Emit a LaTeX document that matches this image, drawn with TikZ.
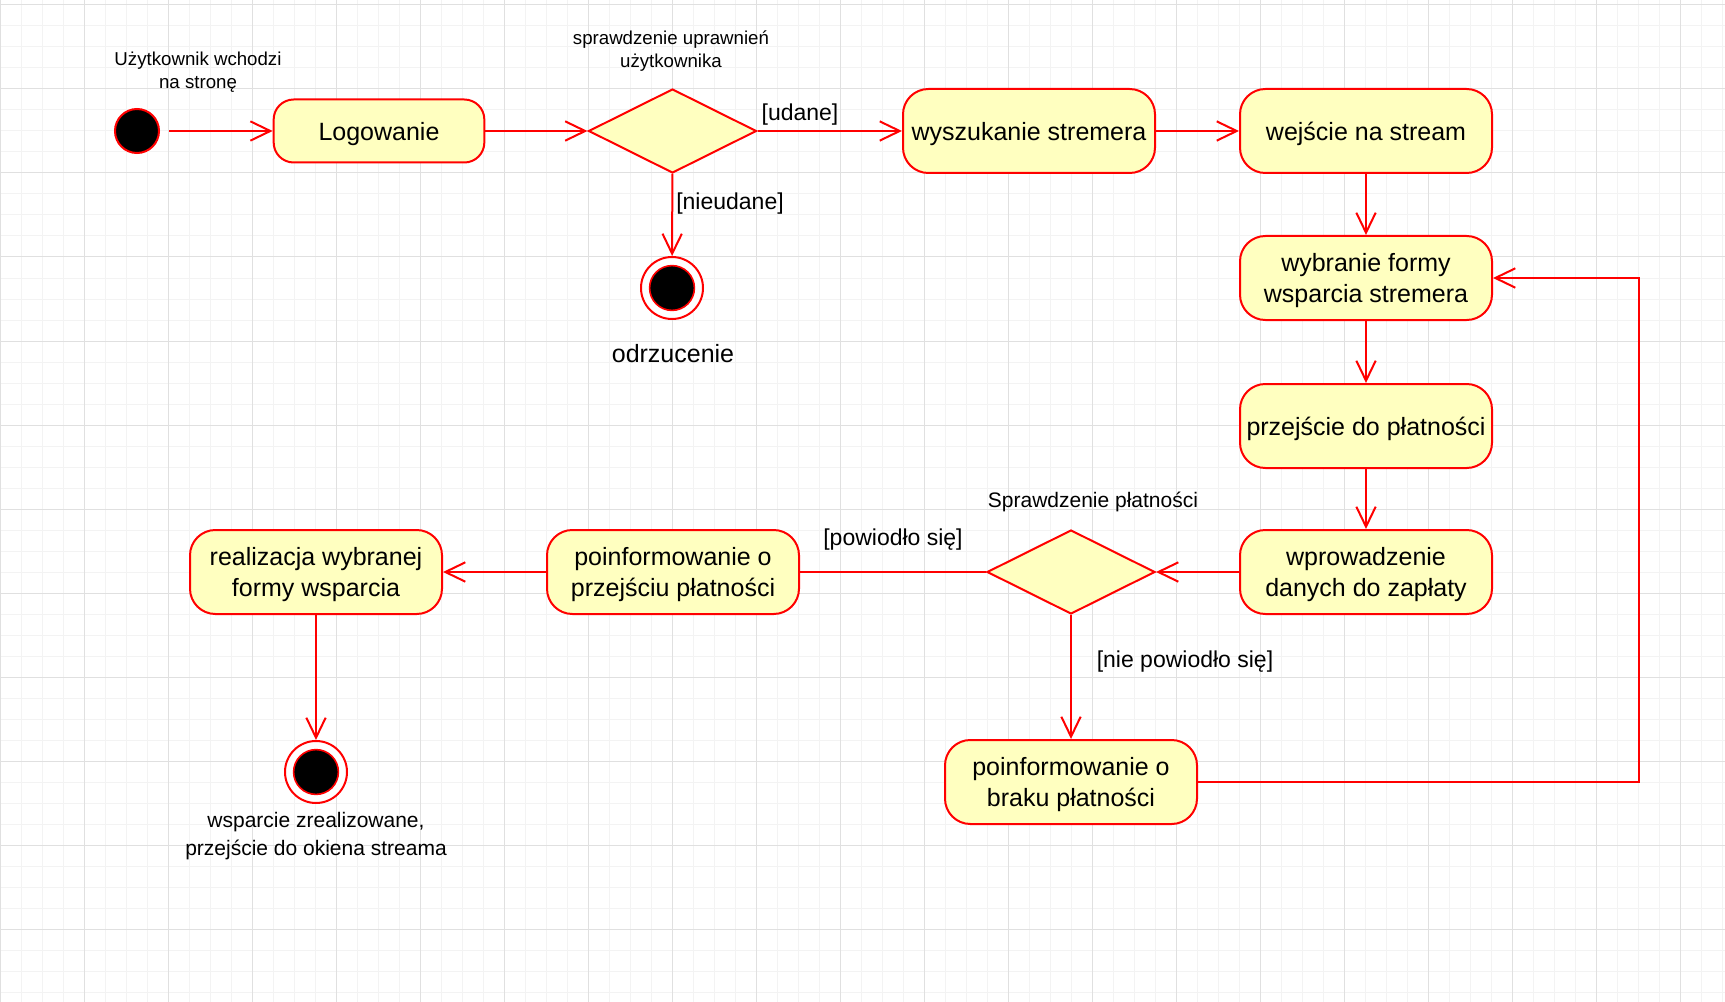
\documentclass[tikz,border=0pt]{standalone}
\usepackage{fontspec}
\setmainfont{Liberation Sans}
\usetikzlibrary{shapes.geometric,arrows.meta}

\definecolor{umlred}{RGB}{255,0,0}
\definecolor{umlfill}{RGB}{255,255,192}
\definecolor{gridmaj}{RGB}{224,224,224}
\definecolor{gridmin}{RGB}{243,243,243}

\tikzset{every picture/.style={line width=1.5pt}}
\tikzset{
  activity/.style={rectangle, rounded corners=19pt, draw=umlred, fill=umlfill, line width=1.5pt,
    minimum width=189pt, minimum height=63pt, inner sep=2pt, align=center, text depth=0pt,
    font=\fontsize{18.75pt}{23.5pt}\selectfont},
  decision/.style={diamond, draw=umlred, fill=umlfill, line width=1.5pt,
    minimum width=126pt, minimum height=63pt, inner sep=0pt},
  startdot/.style={circle, draw=umlred, fill=black, line width=1.5pt, minimum size=33pt, inner sep=0pt},
  enddot/.style={circle, draw=umlred, fill=white, line width=1.5pt, minimum size=46.5pt, inner sep=0pt,
    path picture={\draw[draw=umlred, fill=black, line width=1.2pt] (path picture bounding box.center) circle (16.8pt);}},
  flow/.style={draw=umlred, line width=1.5pt, -{Straight Barb[length=15pt,width=14.5pt]}},
  plainflow/.style={draw=umlred, line width=1.5pt},
  smalltxt/.style={align=center, font=\fontsize{14pt}{17.25pt}\selectfont},
  guardtxt/.style={font=\fontsize{17.25pt}{20pt}\selectfont},
  gridminor/.style={draw=gridmin, line width=0.75pt},
  gridmajor/.style={draw=gridmaj, line width=0.75pt}
}

\begin{document}
\begin{tikzpicture}[x=0.75pt,y=0.75pt,yscale=-1,xscale=1]
\useasboundingbox (0,0) rectangle (1725,1002);
\fill[white] (0,0) rectangle (1725,1002);

%Grid
\foreach \gx in {0,21,...,1722} \draw[gridminor] (\gx,0) -- (\gx,1002);
\foreach \gy in {5,26,...,1002} \draw[gridminor] (0,\gy) -- (1725,\gy);
\foreach \gx in {0,84,...,1722} \draw[gridmajor] (\gx,0) -- (\gx,1002);
\foreach \gy in {5,89,...,1002} \draw[gridmajor] (0,\gy) -- (1725,\gy);

%Shape: Circle (start)
\node[startdot] (start) at (137,131) {};
%Shape: Rounded Rect
\node[activity, minimum width=158pt, minimum height=47.25pt, rounded corners=15pt] (login) at (379,131) {Logowanie};
%Shape: Diamond
\node[decision] (chk1) at (672.5,131) {};
%Shape: Rounded Rect
\node[activity] (search) at (1029,131) {wyszukanie stremera};
%Shape: Rounded Rect
\node[activity] (enter) at (1366,131) {wejście na stream};
%Shape: Rounded Rect
\node[activity] (choose) at (1366,278) {wybranie formy\\wsparcia stremera};
%Shape: Rounded Rect
\node[activity] (topay) at (1366,426) {przejście do płatności};
%Shape: Rounded Rect
\node[activity] (paydata) at (1366,572) {wprowadzenie\\danych do zapłaty};
%Shape: Diamond
\node[decision] (chk2) at (1071,572) {};
%Shape: Rounded Rect
\node[activity] (okpay) at (673,572) {poinformowanie o\\przejściu płatności};
%Shape: Rounded Rect
\node[activity] (realize) at (316,572) {realizacja wybranej\\formy wsparcia};
%Shape: Rounded Rect
\node[activity] (nopay) at (1071,782) {poinformowanie o\\braku płatności};
%Shape: Circle (end)
\node[enddot] (end1) at (672,288) {};
%Shape: Circle (end)
\node[enddot] (end2) at (316,772) {};
\coordinate (loopc) at (1639,278);

%Straight Lines
\draw[flow, shorten <=6.75pt] (start) -- (login);
\draw[flow] (login) -- (chk1);
\draw[flow] (chk1) -- (search);
\draw[flow] (chk1) -- (end1);
\draw[flow] (search) -- (enter);
\draw[flow] (enter) -- (choose);
\draw[flow] (choose) -- (topay);
\draw[flow] (topay) -- (paydata);
\draw[flow] (paydata) -- (chk2);
\draw[plainflow] (chk2) -- (okpay);
\draw[flow] (okpay) -- (realize);
\draw[flow] (realize) -- (end2);
\draw[flow] (chk2) -- (nopay);
\draw[flow] (nopay.east) -| (loopc) -- (choose.east);

% Text Node
\node[smalltxt] (lblstart) at (198,72) {Użytkownik wchodzi\\na stronę};
% Text Node
\node[smalltxt] (lblchk1) at (671,51) {sprawdzenie uprawnień\\użytkownika};
% Text Node
\node[smalltxt, font=\fontsize{15.75pt}{19pt}\selectfont] (lblchk2) at (1093,502) {Sprawdzenie płatności};
% Text Node
\node[guardtxt] (lblok1) at (800,115) {[udane]};
% Text Node
\node[guardtxt] (lblfail1) at (730,204) {[nieudane]};
% Text Node
\node[guardtxt] (lblok2) at (893,540) {[powiodło się]};
% Text Node
\node[guardtxt] (lblfail2) at (1185,662) {[nie powiodło się]};
% Text Node
\node[font=\fontsize{18.75pt}{23pt}\selectfont] (lblend1) at (673,353.5) {odrzucenie};
% Text Node
\node[align=center, font=\fontsize{15.75pt}{20.6pt}\selectfont] (lblend2) at (316,836) {wsparcie zrealizowane,\\przejście do okiena streama};

\end{tikzpicture}
\end{document}
